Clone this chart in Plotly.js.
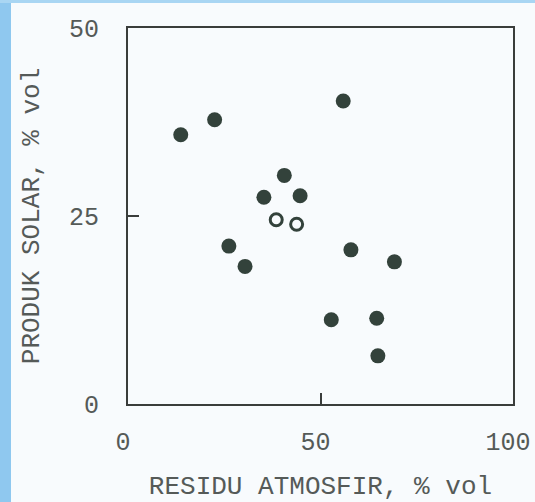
<!DOCTYPE html>
<html>
<head>
<meta charset="utf-8">
<script src="https://cdn.plot.ly/plotly-3.0.1.min.js"></script>
<style>
  html, body { margin: 0; padding: 0; }
  body { width: 535px; height: 502px; background: #f8fbfd; position: relative; overflow: hidden; }
  #strip-left { position: absolute; left: 0; top: 0; width: 11px; height: 502px; background: #8fc8ef; }
  #strip-top { position: absolute; left: 0; top: 0; width: 535px; height: 3px; background: #a9d6f3; }
  #chart { position: absolute; left: 0; top: 0; width: 535px; height: 502px; }
</style>
</head>
<body>
<div id="strip-left"></div>
<div id="strip-top"></div>
<div id="chart"></div>
<script>
// Filled points: residu atmosfir (% vol) vs produk solar (% vol)
const filledResidu = [13.7, 22.5, 55.9, 40.6, 35.3, 44.7, 26.2, 30.4, 57.9, 69.2, 52.8, 64.6, 64.9];
const filledSolar  = [35.8, 37.8, 40.3, 30.4, 27.5, 27.7, 21.0, 18.3, 20.5, 18.9, 11.2, 11.4, 6.4];
// Open points
const openResidu = [38.5, 43.8];
const openSolar  = [24.5, 23.9];
// Axis ticks
const xTicks = [0, 50, 100];
const yTicks = [0, 25, 50];
const xTitle = "RESIDU ATMOSFIR, % vol";
const yTitle = "PRODUK SOLAR, % vol";

const ink = "#33423b";
const textColor = "#555a58";
const font = "Liberation Mono, Courier New, monospace";

const traces = [
  {
    x: filledResidu, y: filledSolar, type: "scatter", mode: "markers",
    marker: { symbol: "circle", size: 15, color: ink, line: { width: 0 } },
    hoverinfo: "x+y", cliponaxis: false
  },
  {
    x: openResidu, y: openSolar, type: "scatter", mode: "markers",
    marker: { symbol: "circle-open", size: 12, color: ink, line: { width: 3, color: ink } },
    hoverinfo: "x+y", cliponaxis: false
  }
];

const layout = {
  width: 535, height: 502,
  margin: { l: 128, r: 22, t: 28, b: 98 },
  paper_bgcolor: "rgba(0,0,0,0)",
  plot_bgcolor: "rgba(0,0,0,0)",
  showlegend: false,
  font: { family: font, color: textColor, size: 25 },
  xaxis: {
    range: [0, 100], tickvals: xTicks, ticktext: xTicks.map(String),
    showgrid: false, zeroline: false,
    showline: true, mirror: true, linecolor: "#3a3d3b", linewidth: 2,
    ticks: "inside", ticklen: 11, tickwidth: 2, tickcolor: "#3a3d3b",
    ticklabelstandoff: 14, ticklabeloverflow: "allow", ticklabelshift: -5,
    tickfont: { family: font, size: 25, color: textColor },
    title: { text: xTitle, font: { family: font, size: 26, color: textColor }, standoff: 22 },
    automargin: false, fixedrange: true
  },
  yaxis: {
    range: [0, 50], tickvals: yTicks, ticktext: yTicks.map(String),
    showgrid: false, zeroline: false,
    showline: true, mirror: true, linecolor: "#3a3d3b", linewidth: 2,
    ticks: "inside", ticklen: 11, tickwidth: 2, tickcolor: "#3a3d3b",
    ticklabelstandoff: 22, ticklabeloverflow: "allow",
    tickfont: { family: font, size: 25, color: textColor },
    title: { text: yTitle, font: { family: font, size: 26, color: textColor }, standoff: 22 },
    automargin: false, fixedrange: true
  }
};

Plotly.newPlot("chart", traces, layout, { displayModeBar: false, staticPlot: true });
</script>
</body>
</html>
